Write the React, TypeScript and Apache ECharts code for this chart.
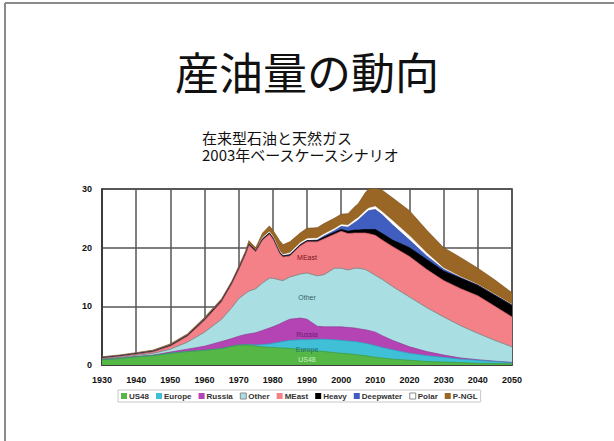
import React, { useEffect, useRef } from "react";
import * as echarts from "echarts";

const years = [1930, 1935, 1940, 1945, 1950, 1955, 1960, 1965, 1968, 1970, 1972, 1973, 1975, 1977, 1979, 1980, 1982, 1983, 1985, 1988, 1990, 1993, 1995, 1998, 2000, 2002, 2004, 2005, 2007, 2008, 2010, 2012, 2015, 2020, 2025, 2030, 2035, 2040, 2045, 2050];

const us48 = [0.9, 1.1, 1.4, 1.6, 2.0, 2.3, 2.5, 2.8, 3.2, 3.4, 3.4, 3.4, 3.2, 3.1, 3.0, 3.0, 2.9, 2.9, 2.8, 2.7, 2.6, 2.4, 2.3, 2.1, 2.0, 1.9, 1.8, 1.7, 1.6, 1.5, 1.3, 1.2, 1.0, 0.8, 0.6, 0.5, 0.4, 0.3, 0.25, 0.2];
const europe = [0, 0, 0, 0, 0, 0, 0, 0, 0, 0, 0.05, 0.1, 0.2, 0.4, 0.6, 0.7, 1.0, 1.1, 1.4, 1.6, 1.7, 2.0, 2.1, 2.2, 2.2, 2.2, 2.2, 2.2, 2.1, 2.1, 2.0, 1.8, 1.6, 1.2, 1.0, 0.8, 0.6, 0.5, 0.35, 0.2];
const russia = [0.05, 0.05, 0.05, 0.1, 0.2, 0.4, 0.7, 1.2, 1.3, 1.5, 1.75, 1.8, 2.1, 2.4, 2.7, 2.8, 3.1, 3.3, 3.6, 3.7, 3.5, 2.2, 2.1, 2.2, 2.3, 2.3, 2.3, 2.3, 2.3, 2.3, 2.3, 2.0, 1.6, 1.1, 0.7, 0.4, 0.2, 0.1, 0.05, 0.05];
const other = [0.1, 0.15, 0.2, 0.3, 0.5, 1.2, 2.4, 3.8, 5.3, 6.4, 7.0, 7.3, 7.5, 8.1, 8.5, 8.3, 7.5, 7.1, 7.2, 7.5, 7.9, 8.6, 8.9, 10.0, 10.0, 9.8, 10.2, 10.3, 10.3, 10.1, 9.7, 9.6, 9.2, 8.5, 7.5, 6.5, 5.5, 4.5, 3.55, 2.65];
const meast = [0.1, 0.15, 0.2, 0.25, 0.5, 1.0, 2.0, 3.0, 4.0, 4.9, 6.6, 7.8, 6.3, 7.3, 7.5, 6.7, 4.5, 4.0, 3.6, 4.8, 5.3, 5.8, 6.1, 5.8, 6.3, 6.2, 6.0, 6.0, 6.2, 6.4, 6.8, 6.7, 6.8, 6.9, 6.5, 6.2, 6.3, 6.4, 5.8, 5.1];
const heavy = [0.1, 0.1, 0.1, 0.1, 0.15, 0.15, 0.2, 0.2, 0.2, 0.2, 0.2, 0.2, 0.2, 0.2, 0.2, 0.2, 0.2, 0.2, 0.2, 0.2, 0.2, 0.2, 0.3, 0.3, 0.3, 0.4, 0.5, 0.5, 0.6, 0.7, 1.0, 1.1, 1.1, 1.5, 1.7, 1.6, 1.8, 1.8, 1.9, 2.0];
const deepwater = [0, 0, 0, 0, 0, 0, 0, 0, 0, 0, 0, 0, 0, 0, 0, 0, 0, 0, 0, 0, 0, 0.1, 0.2, 0.3, 0.5, 0.7, 1.3, 1.7, 2.7, 3.2, 3.4, 3.2, 2.6, 1.3, 0.6, 0.3, 0.1, 0, 0, 0];
const polar = [0, 0, 0, 0, 0, 0, 0, 0, 0, 0, 0, 0, 0, 0.2, 0.2, 0.2, 0.2, 0.2, 0.3, 0.3, 0.3, 0.3, 0.3, 0.3, 0.3, 0.3, 0.4, 0.4, 0.4, 0.4, 0.5, 0.5, 0.7, 0.7, 0.5, 0.2, 0.1, 0.1, 0.1, 0.1];
const pngl = [0.15, 0.15, 0.15, 0.2, 0.25, 0.25, 0.3, 0.3, 0.3, 0.4, 0.4, 0.6, 0.5, 0.8, 1.0, 1.1, 1.8, 1.7, 1.9, 1.7, 1.8, 1.8, 1.8, 1.8, 1.8, 2.0, 2.3, 2.4, 3.1, 3.3, 3.2, 3.7, 3.9, 4.3, 3.9, 3.5, 3.3, 2.8, 2.5, 2.0];

const seriesNames = ["US48", "Europe", "Russia", "Other", "MEast", "Heavy", "Deepwater", "Polar", "P-NGL"];
const seriesValues = [us48, europe, russia, other, meast, heavy, deepwater, polar, pngl];
const seriesColors = ["#55b846", "#3fc0d6", "#b443b4", "#a9dfe3", "#f48088", "#000000", "#3f5ebf", "#ffffff", "#9a6625"];
const seriesLines = ["#3f9a35", "#2aa3bb", "#943a94", "#8a8a8a", "#d0606a", "#000000", "#2f4aa0", "#ffffff", "#7a4f18"];

const xTicks = { min: 1930, max: 2050, interval: 10 };
const yTicks = { min: 0, max: 30, interval: 10 };

const areaLabels = [
  { text: "MEast", x: 307, y: 257, color: "#7a1520" },
  { text: "Other", x: 307, y: 297, color: "#355f66" },
  { text: "Russia", x: 307, y: 334, color: "#6a1f6a" },
  { text: "Europe", x: 307, y: 349, color: "#1f6d80" },
  { text: "US48", x: 307, y: 359, color: "#c9f0c0" },
];

export default function App() {
  const ref = useRef<HTMLDivElement>(null);
  useEffect(() => {
    if (!ref.current) return;
    const chart = echarts.init(ref.current, undefined, { renderer: "svg" });
    // cumulative tops (stacked by hand), drawn from the top layer down so lower layers cover upper ones
    const cumulative: number[][] = [];
    seriesValues.forEach((vals, i) => {
      cumulative.push(vals.map((v, j) => +(v + (i > 0 ? cumulative[i - 1][j] : 0)).toFixed(3)));
    });
    const order = seriesNames.map((_, i) => seriesNames.length - 1 - i);
    const series = order.map((i) => ({
      name: seriesNames[i],
      type: "line",
      symbol: "none",
      clip: true,
      data: years.map((yr, j) => [yr, cumulative[i][j]]),
      lineStyle: { width: i === 3 ? 1 : 0.7, color: seriesLines[i] },
      itemStyle: { color: seriesColors[i] },
      areaStyle: { color: seriesColors[i], opacity: 1, origin: "start" },
    }));
    chart.setOption({
      animation: false,
      backgroundColor: "#ffffff",
      grid: { left: 102, right: 102, top: 189, bottom: 76, show: true, borderColor: "#333", borderWidth: 1.5, backgroundColor: "transparent" },
      xAxis: {
        type: "value",
        ...xTicks,
        axisLine: { show: true, lineStyle: { color: "#333", width: 1.5 } },
        axisTick: { show: false },
        axisLabel: { formatter: (v: number) => String(v), fontSize: 9, fontWeight: "bold", color: "#111", fontFamily: "Arial, Liberation Sans, sans-serif", margin: 10 },
        splitLine: { show: true, lineStyle: { color: "#555", width: 1.5 } },
      },
      yAxis: {
        type: "value",
        ...yTicks,
        axisLine: { show: true, lineStyle: { color: "#333", width: 1.5 } },
        axisTick: { show: false },
        axisLabel: { fontSize: 9, fontWeight: "bold", color: "#111", fontFamily: "Arial, Liberation Sans, sans-serif", margin: 10 },
        splitLine: { show: true, lineStyle: { color: "#555", width: 1.5 } },
      },
      legend: {
        left: 118,
        top: 390,
        orient: "horizontal",
        itemWidth: 6,
        itemHeight: 6,
        itemGap: 7,
        padding: [2, 3],
        borderColor: "#c8c8c8",
        borderWidth: 1,
        icon: "rect",
        textStyle: { fontSize: 8, fontWeight: "bold", color: "#333", fontFamily: "Arial, Liberation Sans, sans-serif", padding: [0, 0, 0, -3] },
        data: seriesNames.map((n, i) => ({
          name: n,
          itemStyle: { color: seriesColors[i], borderColor: i === 3 || i === 7 ? "#8a8a8a" : seriesColors[i], borderWidth: i === 3 || i === 7 ? 1 : 0 },
        })),
      },
      title: [
        { text: "産油量の動向", left: 302, top: 44, textAlign: "center", textStyle: { fontSize: 44, fontWeight: "normal", color: "#111", fontFamily: "Noto Sans CJK JP, sans-serif" } },
      ],
      graphic: [
        { type: "line", shape: { x1: 5, y1: 3, x2: 614, y2: 3 }, style: { stroke: "#8a8a8a", lineWidth: 2 } },
        { type: "line", shape: { x1: 5, y1: 3, x2: 5, y2: 441 }, style: { stroke: "#8a8a8a", lineWidth: 2 } },
        { type: "text", left: 202, top: 129, style: { text: "在来型石油と天然ガス\n2003年ベースケースシナリオ", fontSize: 15, lineHeight: 17, fill: "#111", fontFamily: "Noto Sans CJK JP, sans-serif" } },
        ...areaLabels.map((l) => ({
          type: "text",
          x: l.x,
          y: l.y,
          z: 100,
          style: { text: l.text, fontSize: 7, fill: l.color, align: "center", verticalAlign: "middle", fontFamily: "Arial, Liberation Sans, sans-serif" },
        })),
      ],
      series,
    });
    return () => chart.dispose();
  }, []);
  return <div ref={ref} style={{ position: "fixed", left: 0, top: 0, width: 614, height: 441 }} />;
}
